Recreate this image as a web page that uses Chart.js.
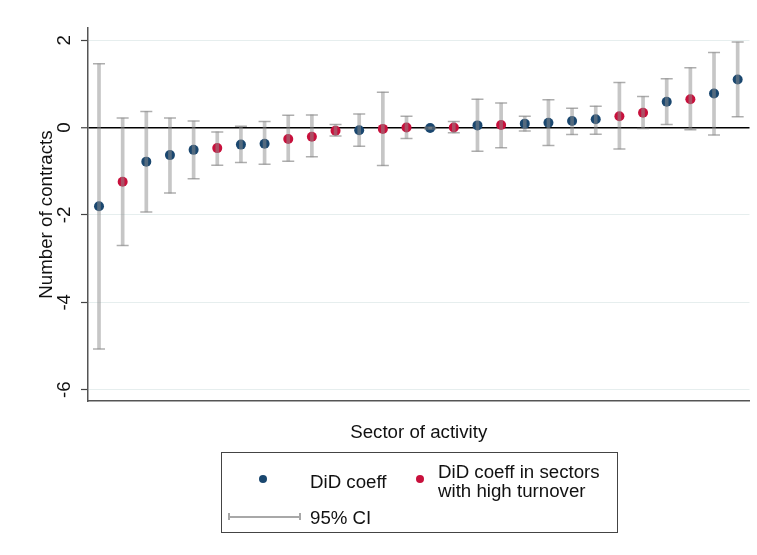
<!DOCTYPE html>
<html>
<head>
<meta charset="utf-8">
<script src="https://cdn.jsdelivr.net/npm/chart.js@4/dist/chart.umd.min.js"></script>
<style>
  body { margin: 0; background: #fff; }
  #wrap { position: relative; width: 757px; height: 555px; font-family: "Liberation Sans", Arial, sans-serif; color: #111; }
  #coefChart { position: absolute; left: 0; top: 0; }
  #legend { position: absolute; left: 221px; top: 452px; width: 397px; height: 81px; box-sizing: border-box; border: 1.5px solid #444; }
  .lg-text { position: absolute; font-size: 18.7px; line-height: 19.7px; white-space: nowrap; }
  .lg-dot { position: absolute; width: 8px; height: 8px; border-radius: 50%; }
  .lg-ci { position: absolute; height: 1.5px; background: #a8a8a8; }
  .lg-cap { position: absolute; width: 1.5px; height: 7px; background: #a8a8a8; }
</style>
</head>
<body>
<div id="wrap">
  <canvas id="coefChart" width="757" height="555"></canvas>
  <div id="legend"></div>
</div>
<script>
// sectors sorted by coefficient, left to right
const sectorIndex = [1,2,3,4,5,6,7,8,9,10,11,12,13,14,15,16,17,18,19,20,21,22,23,24,25,26,27,28];
const didCoef = [-1.80,-1.24,-0.78,-0.63,-0.51,-0.47,-0.39,-0.37,-0.26,-0.21,-0.07,-0.06,-0.03,0.00,-0.01,0.00,0.05,0.06,0.09,0.11,0.15,0.19,0.26,0.34,0.59,0.65,0.78,1.10];
const ciLow = [-5.07,-2.70,-1.93,-1.50,-1.17,-0.86,-0.80,-0.84,-0.77,-0.67,-0.19,-0.43,-0.87,-0.25,-0.03,-0.12,-0.54,-0.46,-0.08,-0.41,-0.16,-0.15,-0.49,-0.02,0.07,-0.05,-0.17,0.25];
const ciHigh = [1.46,0.22,0.37,0.22,0.15,-0.10,0.03,0.14,0.28,0.29,0.07,0.31,0.81,0.26,0.01,0.14,0.65,0.56,0.26,0.64,0.44,0.49,1.03,0.71,1.12,1.37,1.72,1.96];
// 1 = sector with high turnover
const highTurnover = [0,1,0,0,0,1,0,0,1,1,1,0,1,1,0,1,0,1,0,0,0,0,1,1,0,1,0,0];
const yTickValues = [2,0,-2,-4,-6];
const yTickLabels = ['2','0','-2','-4','-6'];

const BLUE = '#1a476f';
const RED = '#c8103c';
const FONT = '"Liberation Sans", Arial, sans-serif';
const FONT_SIZE = 18.7;

function pointsFor(flag) {
    let pts = [];
    for (let i = 0; i < sectorIndex.length; i++) {
        if (highTurnover[i] == flag) {
            pts.push({x: sectorIndex[i], y: didCoef[i]});
        }
    }
    return pts;
}

function ciBars() {
    return sectorIndex.map((s, i) => ({x: s, y: [ciLow[i], ciHigh[i]]}));
}

function ciCaps() {
    let caps = [];
    for (let i = 0; i < sectorIndex.length; i++) {
        caps.push({x: sectorIndex[i], y: ciLow[i]});
        caps.push({x: sectorIndex[i], y: ciHigh[i]});
    }
    return caps;
}

// Stata style: y tick labels turned on their side
const rotatedYTicks = {
  id: 'rotated_y_ticks',
  afterDraw: function(chart) {
      const scaleY = chart.scales.y;
      const ctx = chart.ctx;
      ctx.save();
      ctx.fillStyle = '#111';
      ctx.font = FONT_SIZE + 'px ' + FONT;
      ctx.textAlign = 'center';
      ctx.textBaseline = 'middle';
      for (let i = 0; i < yTickValues.length; i++) {
          ctx.save();
          ctx.translate(65, scaleY.getPixelForValue(yTickValues[i]));
          ctx.rotate(-Math.PI / 2);
          ctx.fillText(yTickLabels[i], 0, 0);
          ctx.restore();
      }
      ctx.restore();
  }
};

function buildLegend() {
    const lg = document.getElementById('legend');
    // positions are relative to the legend box (left 221, top 452)
    lg.innerHTML =
        '<span class="lg-dot" style="left:37px;top:22px;background:' + BLUE + '"></span>' +
        '<span class="lg-text" style="left:88px;top:18.5px">DiD coeff</span>' +
        '<span class="lg-dot" style="left:194px;top:22px;background:' + RED + '"></span>' +
        '<span class="lg-text" style="left:216px;top:8.7px">DiD coeff in sectors<br>with high turnover</span>' +
        '<span class="lg-ci" style="left:6px;top:63px;width:72px"></span>' +
        '<span class="lg-cap" style="left:6px;top:60px"></span>' +
        '<span class="lg-cap" style="left:77px;top:60px"></span>' +
        '<span class="lg-text" style="left:88px;top:54.5px">95% CI</span>';
}

function initChart() {
    Chart.register(rotatedYTicks);

    const ctx = document.getElementById('coefChart');
    return new Chart(ctx, {
      type: 'scatter',
      data: {
        datasets: [
          {
            type: 'bar',
            label: '95% CI',
            data: ciBars(),
            backgroundColor: 'rgba(141, 141, 141, 0.5)',
            borderWidth: 0,
            barThickness: 3,
            grouped: false,
            order: 0
          },
          {
            label: 'caps',
            data: ciCaps(),
            pointStyle: 'line',
            radius: 6,
            borderColor: 'rgba(120, 120, 120, 0.6)',
            borderWidth: 1.5,
            order: 1
          },
          {
            label: 'DiD coeff',
            data: pointsFor(0),
            backgroundColor: BLUE,
            borderWidth: 0,
            radius: 5,
            order: 2
          },
          {
            label: 'DiD coeff in sectors with high turnover',
            data: pointsFor(1),
            backgroundColor: RED,
            borderWidth: 0,
            radius: 5,
            order: 2
          }
        ]
      },
      options: {
        responsive: false,
        animation: false,
        events: [],
        layout: {
          padding: {left: 0, top: 28, right: 7, bottom: 111}
        },
        scales: {
          x: {
            type: 'linear',
            min: 0.535,
            max: 28.5,
            offset: false,
            grid: { display: false },
            border: { display: true, color: '#555', width: 1.5 },
            ticks: { display: false },
            title: {
              display: true,
              text: 'Sector of activity',
              color: '#111',
              font: { family: FONT, size: FONT_SIZE },
              padding: { top: 0, bottom: 0 }
            },
            afterFit: function(scale) { scale.height = 43; }
          },
          y: {
            min: -6.26,
            max: 2.28,
            afterBuildTicks: function(scale) {
                scale.ticks = yTickValues.map(v => ({value: v}));
            },
            grid: {
              color: (c) => (c.tick && c.tick.value === 0) ? '#000' : '#e6eeee',
              lineWidth: (c) => (c.tick && c.tick.value === 0) ? 1.5 : 1,
              tickColor: '#444',
              tickWidth: 1.2,
              tickLength: 7
            },
            border: { display: true, color: '#555', width: 1.5 },
            ticks: {
              color: 'rgba(0,0,0,0)',
              font: { family: FONT, size: FONT_SIZE }
            },
            title: {
              display: true,
              text: 'Number of contracts',
              color: '#111',
              font: { family: FONT, size: FONT_SIZE },
              padding: { top: 36, bottom: 0 }
            },
            afterFit: function(scale) { scale.width = 88; }
          }
        },
        plugins: {
          legend: { display: false },
          tooltip: { enabled: false }
        }
      }
    });
}

buildLegend();
var g_chart = initChart();
</script>
</body>
</html>
